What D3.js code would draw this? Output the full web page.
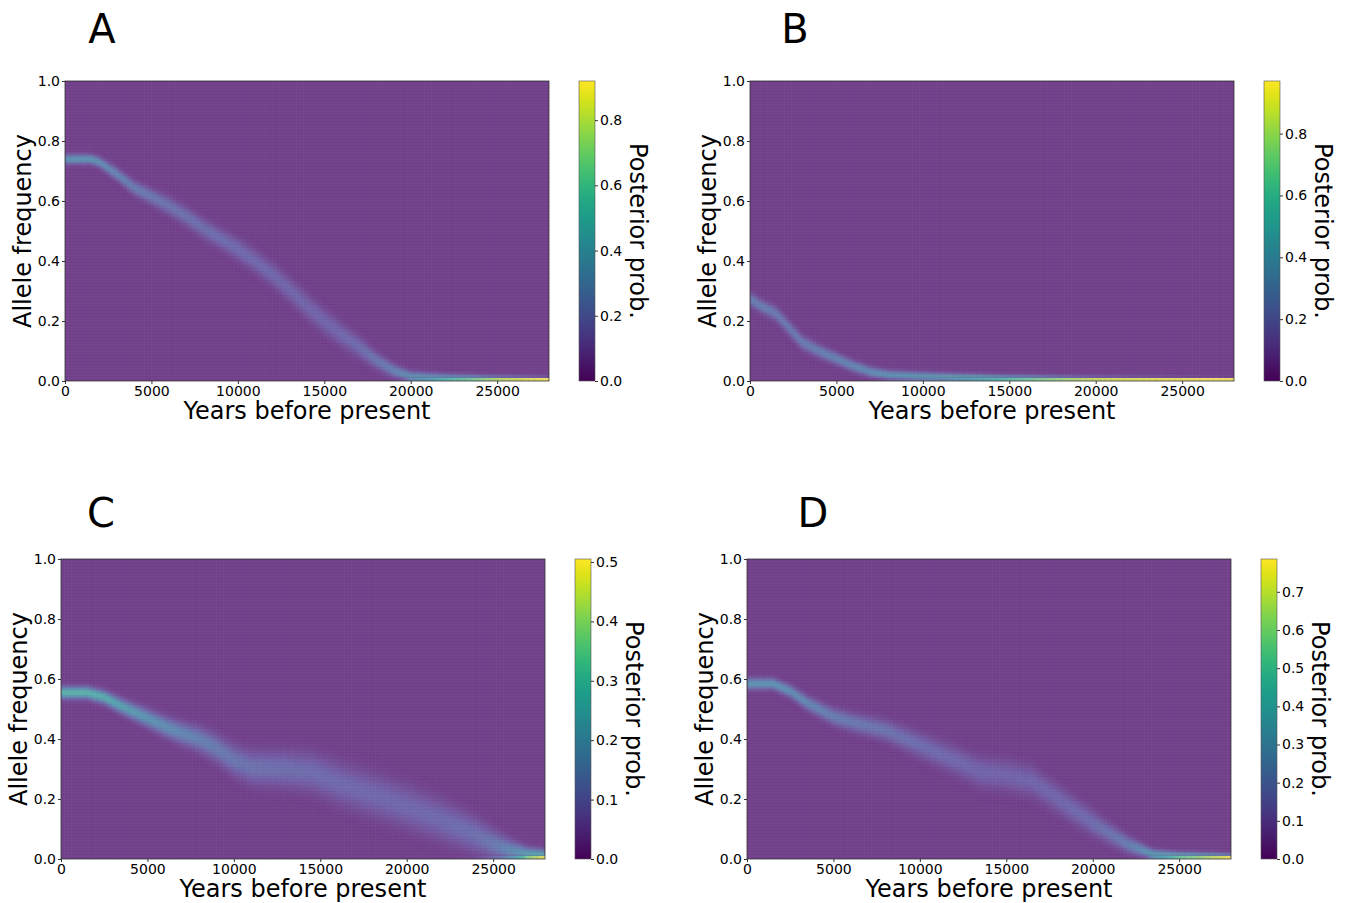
<!DOCTYPE html>
<html>
<head>
<meta charset="utf-8">
<script src="https://cdn.jsdelivr.net/npm/d3@7"></script>
<style>
  body { margin: 0; background: #fff; }
  text { font-family: "DejaVu Sans", sans-serif; fill: #000; }
</style>
</head>
<body>
<script>
// trajectories: years before present -> allele frequency (centre of band) and band spread
const yearsA  = [0, 1500, 2000, 3000, 4000, 5000, 6000, 7000, 8000, 9000, 10000, 11000, 12000, 13000, 14000, 15000, 16000, 17000, 18000, 19000, 20000, 22000, 25000, 28000];
const freqA   = [0.74, 0.74, 0.73, 0.69, 0.645, 0.615, 0.585, 0.55, 0.51, 0.475, 0.44, 0.4, 0.355, 0.305, 0.25, 0.2, 0.155, 0.115, 0.07, 0.035, 0.015, 0.009, 0.005, 0.003];
const spreadA = [0.009, 0.009, 0.01, 0.012, 0.014, 0.016, 0.018, 0.019, 0.02, 0.021, 0.022, 0.023, 0.024, 0.025, 0.026, 0.026, 0.024, 0.021, 0.017, 0.013, 0.01, 0.008, 0.006, 0.005];

const yearsB  = [0, 500, 1500, 2000, 3000, 4000, 5000, 6000, 7000, 8000, 10000, 12000, 15000, 20000, 28000];
const freqB   = [0.275, 0.255, 0.225, 0.195, 0.13, 0.1, 0.075, 0.05, 0.03, 0.02, 0.015, 0.012, 0.008, 0.004, 0.002];
const spreadB = [0.013, 0.013, 0.014, 0.015, 0.014, 0.013, 0.012, 0.011, 0.01, 0.009, 0.008, 0.007, 0.006, 0.005, 0.004];

const yearsC  = [0, 1500, 2500, 3500, 5000, 6500, 8000, 9000, 10000, 11000, 13000, 14500, 16000, 18000, 20000, 22000, 24000, 25000, 26000, 27000, 28000];
const freqC   = [0.555, 0.555, 0.54, 0.51, 0.47, 0.43, 0.4, 0.37, 0.33, 0.305, 0.3, 0.29, 0.255, 0.215, 0.175, 0.13, 0.08, 0.05, 0.028, 0.014, 0.01];
const spreadC = [0.012, 0.012, 0.013, 0.015, 0.018, 0.021, 0.025, 0.028, 0.031, 0.034, 0.038, 0.04, 0.042, 0.044, 0.044, 0.042, 0.036, 0.03, 0.022, 0.015, 0.012];

const yearsD  = [0, 1500, 2500, 3500, 5000, 6500, 8000, 10000, 12000, 13500, 15000, 16500, 18000, 20000, 22000, 23500, 25000, 28000];
const freqD   = [0.585, 0.585, 0.56, 0.52, 0.475, 0.45, 0.43, 0.38, 0.33, 0.29, 0.28, 0.26, 0.2, 0.12, 0.05, 0.015, 0.009, 0.005];
const spreadD = [0.011, 0.011, 0.012, 0.014, 0.017, 0.019, 0.021, 0.025, 0.028, 0.031, 0.032, 0.031, 0.029, 0.025, 0.017, 0.01, 0.008, 0.0065];

const panelLetters = ['A', 'B', 'C', 'D'];
const cbarMax   = [0.92, 0.97, 0.505, 0.786];
const cbarTicks = [
  [0, 0.2, 0.4, 0.6, 0.8],
  [0, 0.2, 0.4, 0.6, 0.8],
  [0, 0.1, 0.2, 0.3, 0.4, 0.5],
  [0, 0.1, 0.2, 0.3, 0.4, 0.5, 0.6, 0.7]
];
const xTicks = [0, 5000, 10000, 15000, 20000, 25000];
const yTicks = [0, 0.2, 0.4, 0.6, 0.8, 1.0];
const xMax = 28000;

const trajYears  = [yearsA, yearsB, yearsC, yearsD];
const trajFreq   = [freqA, freqB, freqC, freqD];
const trajSpread = [spreadA, spreadB, spreadC, spreadD];

// layout
const W = 1345, H = 903;
const plotW = 484, plotH = 300;
const layout = [
  { left: 65,  top: 81,  lx: 102, ly: 43 },
  { left: 750, top: 81,  lx: 795, ly: 43 },
  { left: 61,  top: 559, lx: 101, ly: 527 },
  { left: 747, top: 559, lx: 813, ly: 527 }
];

const tStep = 100;
const colYears = d3.range(0, xMax, tStep);
const rowFreqs = d3.range(0, 100).map(i => i / 100);
const tint = '#d0c8ff', tintAmt = 0.3;

function erf(x) {
  const s = Math.sign(x); x = Math.abs(x);
  const t = 1 / (1 + 0.3275911 * x);
  const y = 1 - (((((1.061405429 * t - 1.453152027) * t) + 1.421413741) * t - 0.284496736) * t + 0.254829592) * t * Math.exp(-x * x);
  return s * y;
}
const normCdf = z => 0.5 * (1 + erf(z / Math.SQRT2));

const svg = d3.select('body').append('svg')
  .attr('width', W).attr('height', H);

const defs = svg.append('defs');
const grad = defs.append('linearGradient')
  .attr('id', 'viridis').attr('x1', 0).attr('y1', 1).attr('x2', 0).attr('y2', 0);
d3.range(0, 1.0001, 0.05).forEach(v => {
  grad.append('stop').attr('offset', v).attr('stop-color', d3.interpolateViridis(v));
});
defs.append('filter').attr('id', 'soft')
  .attr('x', '-5%').attr('y', '-5%').attr('width', '110%').attr('height', '110%')
  .append('feGaussianBlur').attr('stdDeviation', '1.2 1.3');

layout.forEach((L, k) => {
  const g = svg.append('g').attr('transform', `translate(${L.left},${L.top})`);
  const x = d3.scaleLinear().domain([0, xMax]).range([0, plotW]);
  const y = d3.scaleLinear().domain([0, 1]).range([plotH, 0]);
  const cmax = cbarMax[k];
  const cellColor = p => d3.interpolateRgb(d3.interpolateViridis(Math.min(p / cmax, 1)), tint)(tintAmt);

  const mScale = d3.scaleLinear().domain(trajYears[k]).range(trajFreq[k]).clamp(true);
  const sScale = d3.scaleLinear().domain(trajYears[k]).range(trajSpread[k]).clamp(true);

  const cells = [];
  colYears.forEach(t => {
    const m = mScale(t + tStep / 2), s = sScale(t + tStep / 2);
    rowFreqs.forEach((f, i) => {
      const hi = normCdf((f + 0.01 - m) / s);
      const lo = i === 0 ? 0 : normCdf((f - m) / s);
      const p = hi - lo;
      if (p > 0.003) cells.push({ t, f, p, row: i });
    });
  });

  const clipId = 'clip' + k;
  defs.append('clipPath').attr('id', clipId)
    .append('rect').attr('width', plotW).attr('height', plotH);

  g.append('rect')
    .attr('width', plotW).attr('height', plotH)
    .attr('fill', cellColor(0));

  const cellRect = sel => sel
    .attr('x', d => x(d.t))
    .attr('y', d => y(d.f + 0.01))
    .attr('width', d => x(d.t + tStep) - x(d.t) + 0.4)
    .attr('height', d => y(d.f) - y(d.f + 0.01) + 0.2)
    .attr('fill', d => cellColor(d.p));

  const heat = g.append('g').attr('clip-path', `url(#${clipId})`);
  heat.append('g').attr('filter', 'url(#soft)')
    .selectAll('rect')
    .data(cells.filter(d => d.row > 0))
    .join('rect')
    .call(cellRect);
  // lowest bin (allele lost) kept sharp, as in the picture
  heat.append('g')
    .selectAll('rect')
    .data(cells.filter(d => d.row === 0))
    .join('rect')
    .call(cellRect);

  // mesh texture of the pcolormesh
  const mesh = g.append('g').attr('clip-path', `url(#${clipId})`);
  mesh.selectAll('line.h')
    .data(rowFreqs)
    .join('line').attr('class', 'h')
      .attr('x1', 0).attr('x2', plotW)
      .attr('y1', d => y(d)).attr('y2', d => y(d))
      .attr('stroke', '#fff').attr('stroke-opacity', 0.09).attr('stroke-width', 0.8);
  mesh.selectAll('line.v')
    .data(colYears.filter((d, i) => i % 2 === 0))
    .join('line').attr('class', 'v')
      .attr('y1', 0).attr('y2', plotH)
      .attr('x1', d => x(d)).attr('x2', d => x(d))
      .attr('stroke', '#fff').attr('stroke-opacity', 0.05).attr('stroke-width', 0.6);

  g.append('rect')
    .attr('width', plotW).attr('height', plotH)
    .attr('fill', 'none').attr('stroke', '#333').attr('stroke-width', 0.8);

  const xAxis = g.append('g')
    .attr('transform', `translate(0,${plotH})`)
    .call(d3.axisBottom(x).tickValues(xTicks).tickFormat(d3.format('d')).tickSize(3).tickPadding(2));
  const yAxis = g.append('g')
    .call(d3.axisLeft(y).tickValues(yTicks).tickFormat(d3.format('.1f')).tickSize(3).tickPadding(2));
  [xAxis, yAxis].forEach(a => {
    a.select('.domain').remove();
    a.selectAll('text').style('font-size', '14px').attr('fill', '#111');
    a.selectAll('line').attr('stroke', '#333');
  });

  g.append('text')
    .attr('x', plotW / 2).attr('y', plotH + 38)
    .attr('text-anchor', 'middle').style('font-size', '24px')
    .text('Years before present');
  g.append('text')
    .attr('transform', `translate(-34,${plotH / 2}) rotate(-90)`)
    .attr('text-anchor', 'middle').style('font-size', '24px')
    .text('Allele frequency');

  // colour bar
  const cbX = plotW + 30, cbW = 16;
  const cy = d3.scaleLinear().domain([0, cmax]).range([plotH, 0]);
  g.append('rect')
    .attr('x', cbX).attr('width', cbW).attr('height', plotH)
    .attr('fill', 'url(#viridis)').attr('stroke', '#555').attr('stroke-width', 0.6);
  const cAxis = g.append('g')
    .attr('transform', `translate(${cbX + cbW},0)`)
    .call(d3.axisRight(cy).tickValues(cbarTicks[k]).tickFormat(d3.format('.1f')).tickSize(3).tickPadding(2));
  cAxis.select('.domain').remove();
  cAxis.selectAll('text').style('font-size', '14px').attr('fill', '#111');
  cAxis.selectAll('line').attr('stroke', '#333');

  g.append('text')
    .attr('transform', `translate(${plotW + 81},${plotH / 2}) rotate(90)`)
    .attr('text-anchor', 'middle').style('font-size', '24px')
    .text('Posterior prob.');

  svg.append('text')
    .attr('x', L.lx).attr('y', L.ly)
    .attr('text-anchor', 'middle').style('font-size', '40px')
    .text(panelLetters[k]);
});
</script>
</body>
</html>
